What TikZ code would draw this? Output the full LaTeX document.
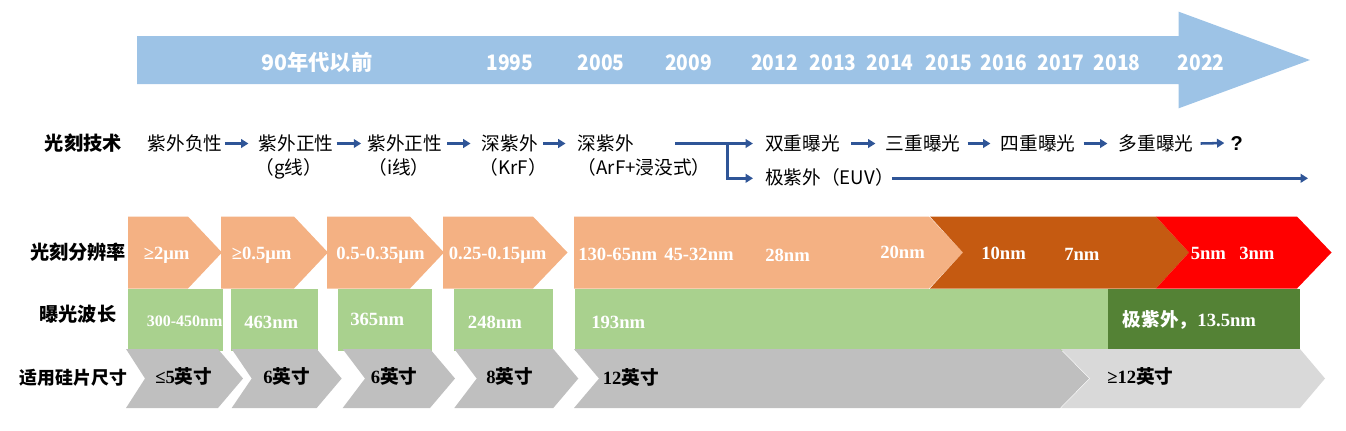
\documentclass[tikz,border=0pt]{standalone}
\usepackage{fontspec}
\usepackage{graphicx}
\setmainfont{Liberation Serif}
\newfontfamily\cjk{Noto Sans CJK SC}
\newfontfamily\arialf{Liberation Sans}
\usetikzlibrary{arrows.meta,calc}
\definecolor{cBlue}{HTML}{9DC3E6}
\definecolor{cLine}{HTML}{2F5597}
\definecolor{cOr}{HTML}{F4B183}
\definecolor{cBrown}{HTML}{C55A11}
\definecolor{cRed}{HTML}{FF0000}
\definecolor{cLG}{HTML}{A9D18E}
\definecolor{cDG}{HTML}{548235}
\definecolor{cGray}{HTML}{BFBFBF}
\definecolor{cLGray}{HTML}{D9D9D9}
\tikzset{
  rowlbl/.style={font=\cjk\bfseries\fontsize{14.4}{14.4}\selectfont, inner sep=0pt, text height=10pt, text depth=0pt},
  yearlbl/.style={text=white, font=\cjk\bfseries\fontsize{16}{16}\selectfont, inner sep=0pt, text height=11.5pt, text depth=0pt},
  tech/.style={font=\cjk\fontsize{14}{14}\selectfont, inner sep=0pt, text height=10pt, text depth=0pt},
  reslbl/.style={text=white, font=\bfseries\fontsize{14}{14}\selectfont, anchor=west, inner sep=0pt, text height=9.4pt, text depth=0pt},
  waflbl/.style={text=black, font=\bfseries\fontsize{14}{14}\selectfont, anchor=west, inner sep=0pt, text height=9.4pt, text depth=0pt},
  arr/.style={draw=cLine, line width=1.9pt, -{Triangle[length=5.5pt,width=6.5pt]}},
}
\newcommand{\cj}[1]{{\cjk\bfseries #1}}
\newcommand{\yr}[1]{\scalebox{0.9}[1]{#1}}
\begin{document}
\begin{tikzpicture}[x=0.75pt,y=-0.75pt]
\useasboundingbox (0,0) rectangle (1346,430);

% timeline arrow
\fill[cBlue] (137,36) -- (1178.7,36) -- (1178.7,11.7) -- (1310,60) -- (1178.7,108.3) -- (1178.7,84) -- (137,84) -- cycle;
\node[yearlbl] (y0) at (316.7,63) {90年代以前};
\node[yearlbl] (y1) at (509.7,63) {\yr{1995}};
\node[yearlbl] (y2) at (601,63) {\yr{2005}};
\node[yearlbl] (y3) at (688.5,63) {\yr{2009}};
\node[yearlbl] (y4) at (774.5,63) {\yr{2012}};
\node[yearlbl] (y5) at (833,63) {\yr{2013}};
\node[yearlbl] (y6) at (890,63) {\yr{2014}};
\node[yearlbl] (y7) at (949,63) {\yr{2015}};
\node[yearlbl] (y8) at (1004,63) {\yr{2016}};
\node[yearlbl] (y9) at (1061,63) {\yr{2017}};
\node[yearlbl] (y10) at (1117,63) {\yr{2018}};
\node[yearlbl] (y11) at (1201,63) {\yr{2022}};

% technology row
\node[rowlbl] (L0) at (83.3,143.5) {光刻技术};
\node[tech] (t1) at (185.2,143.5) {紫外负性};
\node[tech] (t2) at (296,143.5) {紫外正性};
\node[tech] (t2b) at (289,168) {（g线）};
\node[tech] (t3) at (404.7,143.5) {紫外正性};
\node[tech] (t3b) at (399,168) {（i线）};
\node[tech] (t4) at (509.8,143.5) {深紫外};
\node[tech] (t4b) at (513.3,168) {（KrF）};
\node[tech] (t5) at (605.8,143.5) {深紫外};
\node[tech] (t5b) at (644.2,168) {（ArF+浸没式）};
\node[tech] (d1) at (802.5,143.5) {双重曝光};
\node[tech] (d2) at (923,143.5) {三重曝光};
\node[tech] (d3) at (1038,143.5) {四重曝光};
\node[tech] (d4) at (1156,143.5) {多重曝光};
\node[font=\arialf\bfseries\fontsize{15}{15}\selectfont, inner sep=0pt, text height=10.5pt, text depth=0pt] (q) at (1236.7,143) {?};
\node[tech, anchor=west] (e1) at (765,178.3) {极紫外（EUV）};
\coordinate (bs) at (675,143.5);
\coordinate (bj) at (727.3,143.5);
\coordinate (lend) at (1308,178.3);

\draw[arr] ($(t1.east)+(2,0)$) -- ($(t2.west)+(-10,0)$);
\draw[arr] ($(t2.east)+(3,0)$) -- ($(t3.west)+(-6,0)$);
\draw[arr] ($(t3.east)+(5,0)$) -- ($(t4.west)+(-11,0)$);
\draw[arr] ($(t4.east)+(5,0)$) -- ($(t5.west)+(-12,0)$);
\draw[arr] (bs) -- ($(d1.west)+(-12,0)$);
\draw[arr] (bj) |- ($(e1.west)+(-12,0)$);
\draw[arr] ($(d1.east)+(11,0)$) -- ($(d2.west)+(-10,0)$);
\draw[arr] ($(d2.east)+(7,0)$) -- ($(d3.west)+(-10,0)$);
\draw[arr] ($(d3.east)+(8,0)$) -- ($(d4.west)+(-11,0)$);
\draw[arr] ($(d4.east)+(7,0)$) -- ($(q.west)+(-6,0)$);
\draw[arr] ($(e1.east)+(-2,0)$) -- (lend);

% resolution row
\fill[cOr] (128,216.5) -- (188,216.5) -- (222,252.5) -- (188,288.5) -- (128,288.5) -- cycle;
\fill[cOr] (221,216.5) -- (294,216.5) -- (328,252.5) -- (294,288.5) -- (221,288.5) -- cycle;
\fill[cOr] (327,216.5) -- (410,216.5) -- (444,252.5) -- (410,288.5) -- (327,288.5) -- cycle;
\fill[cOr] (443,216.5) -- (533,216.5) -- (567.5,252.5) -- (533,288.5) -- (443,288.5) -- cycle;
\fill[cOr] (574,216.5) -- (929,216.5) -- (963,252.5) -- (929,288.5) -- (574,288.5) -- cycle;
\fill[cBrown] (930,216.5) -- (1156,216.5) -- (1189,252.5) -- (1156,288.5) -- (930,288.5) -- (963,252.5) -- cycle;
\fill[cRed] (1156,216.5) -- (1297,216.5) -- (1331.5,252.5) -- (1297,288.5) -- (1156,288.5) -- (1189,252.5) -- cycle;

\node[rowlbl] (L1) at (78,253) {光刻分辨率};
\node[reslbl] (r1) at (143.5,253) {≥2μm};
\node[reslbl] (r2) at (231.5,253) {≥0.5μm};
\node[reslbl] (r3) at (336,253) {0.5-0.35μm};
\node[reslbl] (r4) at (448.5,253) {0.25-0.15μm};
\node[reslbl] (r5) at (578,254.5) {130-65nm};
\node[reslbl] (r6) at (664,254.5) {45-32nm};
\node[reslbl] (r7) at (765,255) {28nm};
\node[reslbl] (r8) at (880,252.5) {20nm};
\node[reslbl] (r9) at (981,253) {10nm};
\node[reslbl] (r10) at (1064,254) {7nm};
\node[reslbl] (r11) at (1190.5,253.5) {5nm};
\node[reslbl] (r12) at (1239,253.5) {3nm};

% wavelength row
\fill[cLG] (127.5,288.5) rectangle (222.7,350.5);
\fill[cLG] (231,288.5) rectangle (318,350.5);
\fill[cLG] (338,288.5) rectangle (431.7,350.5);
\fill[cLG] (454,288.5) rectangle (552.7,350.5);
\fill[cLG] (575,288.5) rectangle (1108,350.5);
\fill[cDG] (1108,288.5) rectangle (1300,350.5);

\node[rowlbl] (L2) at (78,315) {曝光波长};
\node[reslbl, font=\bfseries\fontsize{12}{12}\selectfont, text height=8pt] (w1) at (146.6,321) {300-450nm};
\node[reslbl] (w2) at (244,322) {463nm};
\node[reslbl] (w3) at (350,319.5) {365nm};
\node[reslbl] (w4) at (467.7,322) {248nm};
\node[reslbl] (w5) at (591,322) {193nm};
\node[reslbl] (w6) at (1122.5,320.5) {\cj{极紫外，}13.5nm};

% wafer row
\fill[cGray] (126,349) -- (218,349) -- (243,378.5) -- (218,408) -- (126,408) -- (145,378.5) -- cycle;
\fill[cGray] (231.7,349) -- (316.7,349) -- (341.7,378.5) -- (316.7,408) -- (231.7,408) -- (251.7,378.5) -- cycle;
\fill[cGray] (342.7,349) -- (430,349) -- (455,378.5) -- (430,408) -- (342.7,408) -- (365,378.5) -- cycle;
\fill[cGray] (454.3,349) -- (553.3,349) -- (578.3,378.5) -- (553.3,408) -- (454.3,408) -- (476.7,378.5) -- cycle;
\fill[cGray] (574,349) -- (1060,349) -- (1089,378.5) -- (1060,408) -- (574,408) -- (599,378.5) -- cycle;
\fill[cLGray] (1061,349) -- (1300,349) -- (1325,378.5) -- (1300,408) -- (1061,408) -- (1090,378.5) -- cycle;

\node[rowlbl, font=\cjk\bfseries\fontsize{13.4}{13.4}\selectfont] (L3) at (73.5,378) {适用硅片尺寸};
\node[waflbl] (s1) at (155,377.5) {≤5\cj{英寸}};
\node[waflbl] (s2) at (263,377.5) {6\cj{英寸}};
\node[waflbl] (s3) at (370.5,377.5) {6\cj{英寸}};
\node[waflbl] (s4) at (486,377.5) {8\cj{英寸}};
\node[waflbl] (s5) at (602.5,378) {12\cj{英寸}};
\node[waflbl] (s6) at (1107,377.5) {≥12\cj{英寸}};
\end{tikzpicture}
\end{document}
